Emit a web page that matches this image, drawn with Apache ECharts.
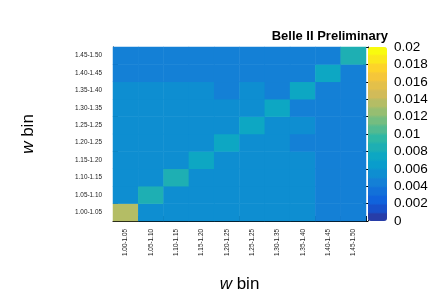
<!DOCTYPE html>
<html>
<head>
<meta charset="utf-8">
<script src="https://cdn.jsdelivr.net/npm/echarts@6/dist/echarts.min.js"></script>
<style>html,body{margin:0;padding:0;background:#fff}#c{width:436px;height:298px}</style>
</head>
<body>
<div id="c"></div>
<script>
// ---- data ----
const xBins = ['1.00-1.05','1.05-1.10','1.10-1.15','1.15-1.20','1.20-1.25','1.25-1.25','1.30-1.35','1.35-1.40','1.40-1.45','1.45-1.50'];
const yBins = ['1.00-1.05','1.05-1.10','1.10-1.15','1.15-1.20','1.20-1.25','1.25-1.25','1.30-1.35','1.35-1.40','1.40-1.45','1.45-1.50'];
// z values, one array per y bin (bottom row first), columns follow xBins
const r0 = [0.0135, 0.0055, 0.0055, 0.0055, 0.0055, 0.0055, 0.0055, 0.0055, 0.0045, 0.0045];
const r1 = [0.0055, 0.0088, 0.0055, 0.0055, 0.0055, 0.0055, 0.0055, 0.0055, 0.0045, 0.0045];
const r2 = [0.0055, 0.0055, 0.0087, 0.0055, 0.0055, 0.0055, 0.0055, 0.0055, 0.0045, 0.0045];
const r3 = [0.0055, 0.0055, 0.0055, 0.0078, 0.0055, 0.0055, 0.0055, 0.0055, 0.0045, 0.0045];
const r4 = [0.0055, 0.0055, 0.0055, 0.0055, 0.0077, 0.0055, 0.0055, 0.0045, 0.0045, 0.0045];
const r5 = [0.0055, 0.0055, 0.0055, 0.0055, 0.0055, 0.0078, 0.0055, 0.0055, 0.0045, 0.0045];
const r6 = [0.0055, 0.0055, 0.0055, 0.0055, 0.0055, 0.0055, 0.0077, 0.0045, 0.0045, 0.0045];
const r7 = [0.0055, 0.0055, 0.0055, 0.0055, 0.0045, 0.0055, 0.0045, 0.0079, 0.0045, 0.0045];
const r8 = [0.0045, 0.0045, 0.0045, 0.0045, 0.0045, 0.0045, 0.0045, 0.0045, 0.0076, 0.0045];
const r9 = [0.0045, 0.0045, 0.0045, 0.0045, 0.0045, 0.0045, 0.0045, 0.0045, 0.0045, 0.0086];
const zRows = [r0, r1, r2, r3, r4, r5, r6, r7, r8, r9];
const zMin = 0, zMax = 0.02, zStep = 0.002;
const titleText = 'Belle II Preliminary';

// ---- palette (ROOT kBird, 20 contour bands) ----
const stR = [0.2082,0.0592,0.0780,0.0232,0.1802,0.5301,0.8186,0.9956,0.9764];
const stG = [0.1664,0.3599,0.5041,0.6419,0.7178,0.7492,0.7328,0.7862,0.9832];
const stB = [0.5293,0.8684,0.8385,0.7914,0.6425,0.4662,0.3499,0.1968,0.0539];
function bird(t){
  const p = t*8, i = Math.min(7, Math.floor(p)), f = p - i;
  const c = a => Math.round(255*(a[i] + (a[i+1]-a[i])*f));
  return 'rgb(' + c(stR) + ',' + c(stG) + ',' + c(stB) + ')';
}
const nBands = 20, bandColors = [];
for (let i = 0; i < nBands; i++) {
  const idx = Math.floor((i + 0.99) * 255 / nBands);
  const col = bird(Math.min(254, idx) / 254);
  for (let k = 0; k < 10; k++) bandColors.push(col);
}

const heat = [];
zRows.forEach((row, yi) => row.forEach((v, xi) => heat.push([xi, yi, v])));

const FONT = 'Liberation Sans';
const chart = echarts.init(document.getElementById('c'), null, {renderer: 'canvas'});
chart.setOption({
  animation: false,
  backgroundColor: '#fff',
  textStyle: {fontFamily: FONT},
  grid: [
    {left: 113, top: 47, width: 253, height: 174},
    {left: 368, top: 47, width: 19, height: 174}
  ],
  xAxis: [
    {
      type: 'category', data: xBins, gridIndex: 0,
      axisLine: {show: true, lineStyle: {color: '#000', width: 1}},
      axisTick: {show: true, inside: true, length: 5, lineStyle: {color: '#000'}},
      axisLabel: {rotate: 90, fontSize: 6.4, color: '#222', margin: 8, fontFamily: FONT},
      splitLine: {show: false},
      name: '{i|w} bin', nameLocation: 'middle', nameGap: 55,
      nameTextStyle: {fontSize: 17, color: '#000', fontFamily: FONT,
        rich: {i: {fontStyle: 'italic', fontSize: 17, fontFamily: FONT, color: '#000'}}}
    },
    {type: 'value', gridIndex: 1, show: false, min: 0, max: 1}
  ],
  yAxis: [
    {
      type: 'category', data: yBins, gridIndex: 0,
      axisLine: {show: true, lineStyle: {color: '#000', width: 1}},
      axisTick: {show: true, inside: true, length: 5, lineStyle: {color: '#000'}},
      axisLabel: {fontSize: 6.4, color: '#222', margin: 11, fontFamily: FONT},
      splitLine: {show: false},
      name: '{i|w} bin', nameLocation: 'middle', nameGap: 76, nameRotate: 90,
      nameTextStyle: {fontSize: 17, color: '#000', fontFamily: FONT,
        rich: {i: {fontStyle: 'italic', fontSize: 17, fontFamily: FONT, color: '#000'}}}
    },
    {
      type: 'value', gridIndex: 1, position: 'right', min: zMin, max: zMax, interval: zStep,
      axisLine: {show: true, lineStyle: {color: '#000', width: 1}},
      axisTick: {show: true, inside: true, length: 5, lineStyle: {color: '#000'}},
      axisLabel: {fontSize: 13.5, color: '#000', margin: 7, fontFamily: FONT,
        formatter: v => String(+v.toFixed(3))},
      splitLine: {show: false}
    }
  ],
  visualMap: {
    type: 'continuous', min: zMin, max: zMax, seriesIndex: 0,
    left: 368, top: 47, itemWidth: 19, itemHeight: 174, padding: 0,
    calculable: false, text: ['', ''], showLabel: false,
    inRange: {color: bandColors}
  },
  graphic: [{
    type: 'text', z: 100,
    style: {x: 388, y: 36.5, text: titleText, textAlign: 'right', textVerticalAlign: 'middle',
      font: 'bold 13px "Liberation Sans"', fill: '#000'}
  }],
  series: [
    {type: 'heatmap', xAxisIndex: 0, yAxisIndex: 0, data: heat, itemStyle: {borderWidth: 0}},
    {type: 'scatter', xAxisIndex: 1, yAxisIndex: 1, data: [], silent: true}
  ]
});
</script>
</body>
</html>
